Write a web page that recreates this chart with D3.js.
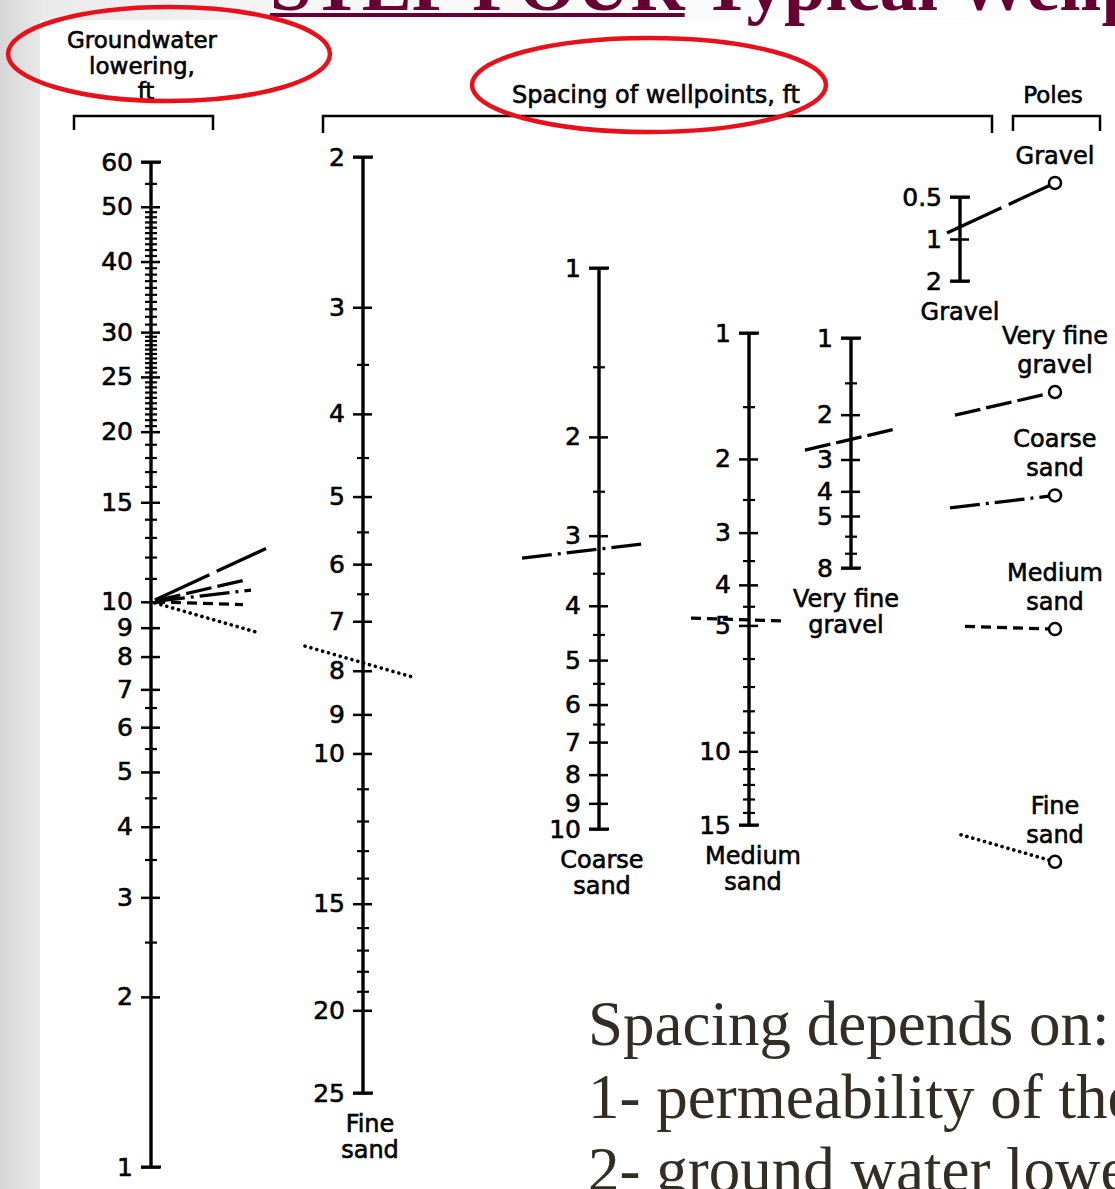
<!DOCTYPE html>
<html><head><meta charset="utf-8">
<script src="https://cdn.jsdelivr.net/npm/d3@7"></script>
<style>html,body{margin:0;padding:0;background:#fff;overflow:hidden}</style>
</head><body><svg id="c" width="1115" height="1189"></svg>
<script>
// ---------------- data ----------------
const lowerMajor = [1,2,3,4,5,6,7,8,9,10,15,20,25,30,40,50,60];
const lowerMinor = [2.5,3.5,4.5,5.5,6.5,11,12,13,14,16,17,18,19,20.5,21,21.5,22,22.5,23,23.5,24,24.5,25.5,26,26.5,27,27.5,28,28.5,29,29.5,31,32,33,34,35,36,37,38,39,41,42,43,44,45,46,47,48,49,55];
const fineMajor = [2,3,4,5,6,7,8,9,10,15,20,25];
const fineMinor = [3.5,4.5,5.5,6.5,11,12,13,14,16,17,18,19];
const coarseMajor = [1,2,3,4,5,6,7,8,9,10];
const coarseMinor = [1.5,2.5,3.5,4.5,5.5,6.5];
const mediumMajor = [1,2,3,4,5,10,15];
const mediumMinor = [1.5,2.5,3.5,4.5,6,7,8,9,11,12,13,14];
const vfgMajor = [1,2,3,4,5,8];
const vfgMinor = [1.5,6,7];
const gravelMajor = [0.5,1,2];
const gravelMinor = [];

const materials = ["Gravel","Very fine gravel","Coarse sand","Medium sand","Fine sand"];
const poleLabels = [["Gravel"],["Very fine","gravel"],["Coarse","sand"],["Medium","sand"],["Fine","sand"]];
const exampleLowering = [10,10,10,10,10];          // ft
const exampleSpacing  = [0.82,2.5,3.17,4.85,7.83];  // ft, read where each line crosses its soil scale
const bottomLines = ["Spacing depends on:","1- permeability of the soil","2- ground water lowering"];

// ---------------- layout ----------------
const W = 1115, H = 1189;
const FONT = "'DejaVu Sans', sans-serif";
const axes = {
  lower:  {x:151, domain:[1,60],  range:[1167,162], major:lowerMajor,  minor:lowerMinor},
  fine:   {x:363, domain:[2,25],  range:[157,1093], major:fineMajor,   minor:fineMinor,   label:["Fine","sand"], ldx:7},
  coarse: {x:599, domain:[1,10],  range:[268,829],  major:coarseMajor, minor:coarseMinor, label:["Coarse","sand"], ldx:3},
  medium: {x:749, domain:[1,15],  range:[333,825],  major:mediumMajor, minor:mediumMinor, label:["Medium","sand"], ldx:4},
  vfg:    {x:851, domain:[1,8],   range:[338,568],  major:vfgMajor,    minor:vfgMinor,    label:["Very fine","gravel"], ldx:-5},
  gravel: {x:960, domain:[0.5,2], range:[197,281],  major:gravelMajor, minor:gravelMinor, label:["Gravel"], ldx:0}
};
const materialAxis = ["gravel","vfg","coarse","medium","fine"];
const poleX = 1055;
const dashes = ["60,8","26,6","30,6,3,6","10,6","0.1,6"];
const segs = [
  [["L",4,"L",115],["M",-13,"P",-6]],
  [["L",4,"L",95],["M",-46,"M",47],["P",-100,"P",-6]],
  [["L",4,"L",100],["M",-77,"M",47],["P",-105,"P",-6]],
  [["L",4,"L",92],["M",-58,"M",32],["P",-90,"P",-6]],
  [["L",4,"L",108],["M",-58,"M",52],["P",-94,"P",-6]]
];
const TXT_STROKE = 0.6;

const svg = d3.select("#c");
const defs = svg.append("defs");
const grad = defs.append("linearGradient").attr("id","bg").attr("x1",0).attr("x2",1).attr("y1",0).attr("y2",0);
[["0%","#d6d6d6"],["4%","#eaeaea"],["30%","#f7f7f7"],["100%","#ffffff"]].forEach(s=>grad.append("stop").attr("offset",s[0]).attr("stop-color",s[1]));
svg.append("rect").attr("width",W).attr("height",H).attr("fill","url(#bg)");
svg.append("rect").attr("x",40).attr("y",20).attr("width",W-40).attr("height",H-20).attr("fill","#fff");

// title (cut at the top as in the slide)
const title = svg.append("text").attr("x",270).attr("y",10)
  .attr("font-family","'Liberation Serif', serif").attr("font-weight","bold").attr("font-size",75).attr("fill","#660033");
const t1 = title.append("tspan").text("STEP FOUR");
title.append("tspan").text(" Typical Wellpoint Spacing");
svg.append("rect").attr("x",270).attr("y",13).attr("width",t1.node().getComputedTextLength()).attr("height",4).attr("fill","#660033");

function lbl(txt,x,y,size){
  return svg.append("text").attr("x",x).attr("y",y).attr("text-anchor","middle").attr("font-family",FONT)
    .attr("font-size",size).attr("fill","#000").attr("stroke","#000").attr("stroke-width",TXT_STROKE).text(txt);
}
// headers and brackets
lbl("Groundwater",142,48,23); lbl("lowering,",142,74,23); lbl("ft",146,99,23);
lbl("Spacing of wellpoints, ft",656,103,24);
lbl("Poles",1053,103,23);
[[74,213,130],[323,992,133],[1013,1100,131]].forEach(b=>{
  svg.append("path").attr("d",`M${b[0]},${b[2]}V116H${b[1]}V${b[2]}`).attr("fill","none").attr("stroke","#000").attr("stroke-width",2.5);
});

// scales and axes
const sc = {};
Object.entries(axes).forEach(([k,a])=>{
  const s = d3.scaleLog().domain(a.domain).range(a.range);
  sc[k] = s;
  const g = svg.append("g").attr("transform",`translate(${a.x},0)`).attr("color","#000");
  g.append("line").attr("y1",a.range[0]).attr("y2",a.range[1]).attr("stroke","#000").attr("stroke-width",3.4);
  a.domain.forEach(d=>g.append("line").attr("x1",-10).attr("x2",10).attr("y1",s(d)).attr("y2",s(d)).attr("stroke","#000").attr("stroke-width",3));
  const gm = g.append("g").call(d3.axisLeft(s).tickValues(a.minor).tickSize(6).tickFormat(""));
  gm.select(".domain").remove();
  gm.selectAll(".tick line").attr("x1",6).attr("stroke-width",2.2);
  const gM = g.append("g").call(d3.axisLeft(s).tickValues(a.major).tickSize(10).tickPadding(8).tickFormat(d=>String(d)));
  gM.select(".domain").remove();
  gM.selectAll(".tick line").attr("x1",9).attr("stroke-width",2.5);
  gM.attr("font-family",FONT).attr("font-size",25);
  gM.selectAll("text").attr("fill","#000").attr("stroke","#000").attr("stroke-width",TXT_STROKE);
  if(a.label){
    const y0 = Math.max(a.range[0],a.range[1]);
    a.label.forEach((t,i)=>lbl(t,a.x+a.ldx,y0+39+i*26,24));
  }
});

// example lines through poles
materials.forEach((m,i)=>{
  const ak = materialAxis[i];
  const p0 = [axes.lower.x, sc.lower(exampleLowering[i])];
  const p1 = [axes[ak].x, sc[ak](exampleSpacing[i])];
  const yAt = x => p0[1] + (p1[1]-p0[1])*(x-p0[0])/(p1[0]-p0[0]);
  const poleY = yAt(poleX);
  const anchor = {L:p0[0], M:p1[0], P:poleX};
  segs[i].forEach(sg=>{
    const xa = anchor[sg[0]]+sg[1], xb = anchor[sg[2]]+sg[3];
    svg.append("line").attr("x1",xa).attr("y1",yAt(xa)).attr("x2",xb).attr("y2",yAt(xb))
      .attr("stroke","#000").attr("stroke-width",i===4?3.6:3.3)
      .attr("stroke-dasharray",dashes[i]).attr("stroke-linecap",i===4?"round":"butt");
  });
  svg.append("circle").attr("cx",poleX).attr("cy",poleY).attr("r",6).attr("fill","#fff").attr("stroke","#000").attr("stroke-width",2.5);
  const lab = poleLabels[i];
  lab.forEach((t,j)=>lbl(t,poleX,poleY-19-(lab.length-1-j)*29,24));
});

// red ellipses
svg.append("ellipse").attr("cx",169).attr("cy",54).attr("rx",161).attr("ry",47).attr("fill","none").attr("stroke","#e8101a").attr("stroke-width",4.5);
svg.append("ellipse").attr("cx",649).attr("cy",85).attr("rx",177).attr("ry",47).attr("fill","none").attr("stroke","#e8101a").attr("stroke-width",4.5);

// slide text
bottomLines.forEach((t,i)=>{
  svg.append("text").attr("x",588).attr("y",1045+i*73).attr("font-family","'Liberation Serif', serif")
    .attr("font-size",63).attr("fill","#322d25").text(t);
});
</script></body></html>
